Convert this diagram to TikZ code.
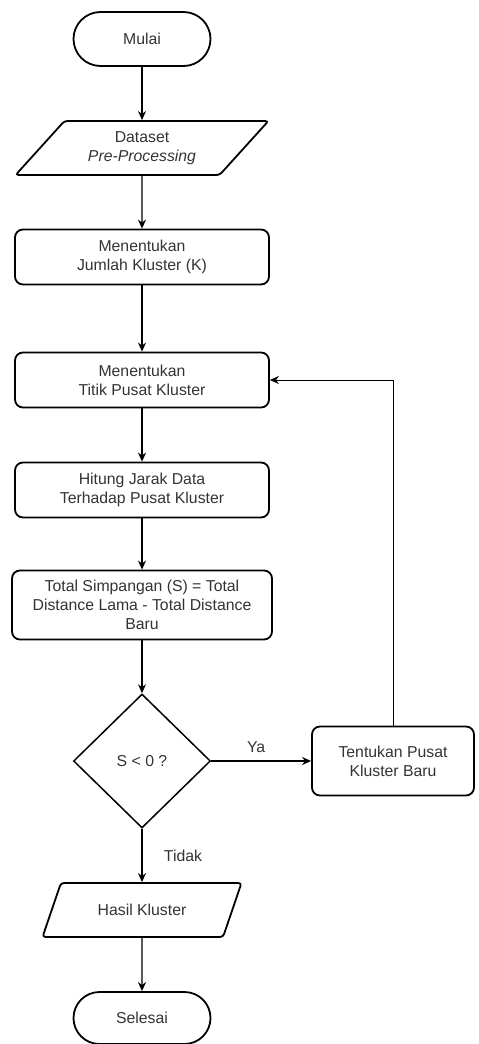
\documentclass[tikz,border=0pt]{standalone}
\usepackage{fontspec}
\setmainfont{Liberation Sans}
\usetikzlibrary{arrows.meta, positioning, shapes.geometric}

\begin{document}
\begin{tikzpicture}[x=1pt, y=-1pt,
  every node/.style={font=\fontsize{15.8}{18.7}\selectfont, text=black!80, align=center},
  terminal/.style={draw=black, line width=1.8pt, rounded corners=27pt, minimum width=137pt, minimum height=54pt, inner sep=0pt},
  proses/.style={draw=black, line width=1.8pt, rounded corners=8pt, minimum width=254pt, minimum height=55pt, inner sep=0pt},
  io/.style={draw=black, line width=1.8pt, trapezium, trapezium left angle=44, trapezium right angle=136, trapezium stretches=true, rounded corners=3pt, minimum height=54pt, inner sep=0pt},
  keputusan/.style={draw=black, line width=1.5pt, diamond, minimum width=137pt, minimum height=134pt, inner sep=0pt},
  alur/.style={-{Stealth[length=9pt, width=8pt]}, line width=1.3pt}
]
  \useasboundingbox (0,0) rectangle (479,1044);

  % simbol alur
  \node[terminal] (mulai) at (142,39) {Mulai};
  \node[io, minimum width=253pt] (dataset) at (142,148) {Dataset\\\textit{Pre-Processing}};
  \node[proses] (jumlah) at (142,257) {Menentukan\\Jumlah Kluster (K)};
  \node[proses] (titik) at (142,380) {Menentukan\\Titik Pusat Kluster};
  \node[proses] (hitung) at (142,490) {Hitung Jarak Data\\Terhadap Pusat Kluster};
  \node[proses, minimum width=260pt, minimum height=69pt] (simpangan) at (142,605) {Total Simpangan (S) = Total\\Distance Lama - Total Distance\\Baru};
  \node[keputusan] (cek) at (142,761) {S < 0 ?};
  \node[proses, minimum width=162pt, minimum height=69pt] (baru) at (393,761) {Tentukan Pusat\\Kluster Baru};
  \node[io, minimum width=199pt, trapezium left angle=49, trapezium right angle=131] (hasil) at (142,910) {Hasil Kluster};
  \node[terminal, minimum height=52pt, rounded corners=26pt] (selesai) at (142,1018) {Selesai};

  % panah
  \draw[alur] (mulai) -- (dataset);
  \draw[alur] (dataset) -- (jumlah);
  \draw[alur] (jumlah) -- (titik);
  \draw[alur] (titik) -- (hitung);
  \draw[alur] (hitung) -- (simpangan);
  \draw[alur] (simpangan) -- (cek);
  \draw[alur] (cek) -- (baru) node[pos=0.45, above=4pt] (ya) {Ya};
  \draw[alur] (cek) -- (hasil) node[midway, right=18pt] (tidak) {Tidak};
  \draw[alur] (hasil) -- (selesai);
  \draw[alur, line width=1pt] (baru.north) |- (titik.east);
\end{tikzpicture}
\end{document}
